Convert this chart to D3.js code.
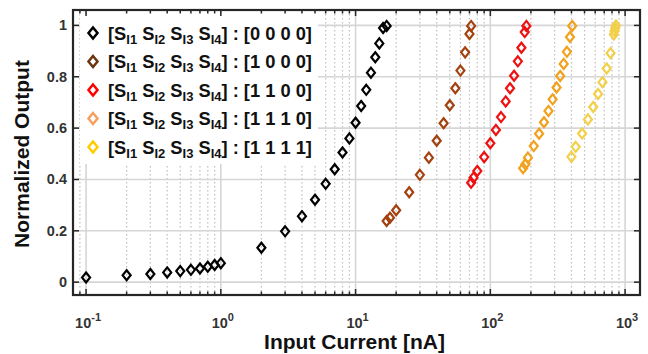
<!DOCTYPE html>
<html>
<head>
<meta charset="utf-8">
<script src="https://cdn.jsdelivr.net/npm/d3@7/dist/d3.min.js"></script>
<style>
  body { margin: 0; background: #fff; }
  svg { display: block; font-family: "Liberation Sans", Arial, sans-serif; }
</style>
</head>
<body>
<div id="chart"></div>
<script>
// data
var codes = ["0 0 0 0", "1 0 0 0", "1 1 0 0", "1 1 1 0", "1 1 1 1"];
var dotColors = ["#000000", "#a3420f", "#ee1111", "#f2a11c", "#f2d04a"];
var legendColors = ["#000000", "#6b3510", "#ff0000", "#f5a060", "#ffcc00"];

var x0000 = [0.1, 0.2, 0.3, 0.4, 0.5, 0.6, 0.7, 0.8, 0.9, 1, 2, 3, 4, 5, 6, 7, 8, 9, 10, 11, 12, 13, 14, 15, 16, 17];
var y0000 = [0.018, 0.027, 0.032, 0.038, 0.043, 0.048, 0.053, 0.060, 0.067, 0.074, 0.134, 0.198, 0.257, 0.321, 0.383, 0.44, 0.505, 0.56, 0.621, 0.686, 0.749, 0.816, 0.876, 0.93, 0.99, 0.998];
var x1000 = [17, 18, 20, 25, 30, 35, 40, 45, 50, 55, 60, 65, 70, 72];
var y1000 = [0.238, 0.251, 0.28, 0.35, 0.418, 0.485, 0.551, 0.619, 0.689, 0.755, 0.824, 0.895, 0.967, 0.998];
var x1100 = [72, 75, 80, 90, 100, 110, 120, 130, 140, 150, 160, 170, 180, 185];
var y1100 = [0.387, 0.407, 0.433, 0.487, 0.541, 0.593, 0.643, 0.704, 0.755, 0.804, 0.86, 0.913, 0.974, 0.998];
var x1110 = [175, 182, 190, 210, 230, 250, 270, 290, 310, 330, 350, 370, 390, 405];
var y1110 = [0.444, 0.459, 0.485, 0.530, 0.578, 0.623, 0.667, 0.712, 0.758, 0.803, 0.85, 0.897, 0.955, 0.998];
var x1111 = [400, 430, 480, 530, 580, 630, 680, 730, 780, 825, 835, 845, 855];
var y1111 = [0.488, 0.527, 0.579, 0.634, 0.682, 0.733, 0.779, 0.832, 0.892, 0.965, 0.978, 0.99, 1.0];

var xs = [x0000, x1000, x1100, x1110, x1111];
var ys = [y0000, y1000, y1100, y1110, y1111];

var xMajor = [0.1, 1, 10, 100, 1000];
var yTicks = [0, 0.2, 0.4, 0.6, 0.8, 1];
var yTickLabels = ["0", "0.2", "0.4", "0.6", "0.8", "1"];

function draw() {

// minor ticks 2..9 of each decade inside the axes
var xMinor = [];
[0.01, 0.1, 1, 10, 100, 1000].forEach(function(dec) {
  for (var k = 2; k <= 9; k++) {
    var v = dec * k;
    if (v > 0.081 && v < 1290) xMinor.push(v);
  }
});

var W = 648, H = 354;
var pLeft = 73, pRight = 640, pTop = 10, pBottom = 295;

var x = d3.scaleLog().domain([0.08, 1290]).range([pLeft, pRight]);
var y = d3.scaleLinear().domain([-0.05, 1.06]).range([pBottom, pTop]);

var svg = d3.select("#chart").append("svg")
  .attr("width", W)
  .attr("height", H);

// grid
var grid = svg.append("g");
grid.selectAll(".minor").data(xMinor).enter().append("line")
  .attr("x1", function(d) { return x(d); })
  .attr("x2", function(d) { return x(d); })
  .attr("y1", pTop).attr("y2", pBottom)
  .attr("stroke", "#bdbdbd")
  .attr("stroke-width", 1.2)
  .attr("stroke-dasharray", "1.5,2.5");
grid.selectAll(".vmaj").data(xMajor).enter().append("line")
  .attr("x1", function(d) { return x(d); })
  .attr("x2", function(d) { return x(d); })
  .attr("y1", pTop).attr("y2", pBottom)
  .attr("stroke", "#d6d6d6")
  .attr("stroke-width", 1.6);
grid.selectAll(".hmaj").data(yTicks).enter().append("line")
  .attr("x1", pLeft).attr("x2", pRight)
  .attr("y1", function(d) { return y(d); })
  .attr("y2", function(d) { return y(d); })
  .attr("stroke", "#d6d6d6")
  .attr("stroke-width", 1.6);

// markers
var diamond = "M0,-5L4,0L0,5L-4,0Z";
xs.forEach(function(xv, i) {
  svg.append("g").selectAll("path")
    .data(xv.map(function(d, j) { return [d, ys[i][j]]; }))
    .enter().append("path")
    .attr("d", diamond)
    .attr("transform", function(d) { return "translate(" + x(d[0]) + "," + y(d[1]) + ")"; })
    .attr("fill", "none")
    .attr("stroke", dotColors[i])
    .attr("stroke-width", 2.2);
});

// legend
var leg = svg.append("g");
leg.append("rect")
  .attr("x", 80).attr("y", 14)
  .attr("width", 238).attr("height", 150)
  .attr("fill", "#fff");
codes.forEach(function(c, i) {
  var ly = 33 + i * 28.5;
  leg.append("path")
    .attr("d", "M0,-5.5L4.5,0L0,5.5L-4.5,0Z")
    .attr("transform", "translate(93," + ly + ")")
    .attr("fill", "none")
    .attr("stroke", legendColors[i])
    .attr("stroke-width", 2.5);
  var t = leg.append("text")
    .attr("x", 108).attr("y", ly + 6.5)
    .attr("font-size", 18.3)
    .attr("font-weight", "bold")
    .attr("fill", "#111");
  t.append("tspan").text("[S");
  for (var k = 1; k <= 4; k++) {
    t.append("tspan").attr("dy", 4).attr("font-size", 13).text("I" + k);
    if (k < 4) t.append("tspan").attr("dy", -4).text(" S");
  }
  t.append("tspan").attr("dy", -4).text("] : [" + c + "]");
});

// axes frame and ticks (inward, all four sides)
var axes = svg.append("g").attr("stroke", "#262626");
function tickLines(vals, len, horiz) {
  vals.forEach(function(v) {
    if (horiz) {
      axes.append("line").attr("x1", x(v)).attr("x2", x(v)).attr("y1", pBottom).attr("y2", pBottom - len).attr("stroke-width", 1.5);
      axes.append("line").attr("x1", x(v)).attr("x2", x(v)).attr("y1", pTop).attr("y2", pTop + len).attr("stroke-width", 1.5);
    } else {
      axes.append("line").attr("y1", y(v)).attr("y2", y(v)).attr("x1", pLeft).attr("x2", pLeft + len).attr("stroke-width", 1.5);
      axes.append("line").attr("y1", y(v)).attr("y2", y(v)).attr("x1", pRight).attr("x2", pRight - len).attr("stroke-width", 1.5);
    }
  });
}
tickLines(xMajor, 6, true);
tickLines(xMinor, 3.5, true);
tickLines(yTicks, 6, false);
axes.append("rect")
  .attr("x", pLeft).attr("y", pTop)
  .attr("width", pRight - pLeft).attr("height", pBottom - pTop)
  .attr("fill", "none")
  .attr("stroke-width", 2.2);

// tick labels
svg.append("g").selectAll("text").data(yTicks).enter().append("text")
  .attr("x", pLeft - 6)
  .attr("y", function(d) { return y(d) + 5; })
  .attr("text-anchor", "end")
  .attr("font-size", 14.5)
  .attr("font-weight", "bold")
  .attr("fill", "#333")
  .text(function(d, i) { return yTickLabels[i]; });

var xl = svg.append("g").selectAll("text").data(xMajor).enter().append("text")
  .attr("x", function(d) { return x(d) + 2; })
  .attr("y", 328)
  .attr("text-anchor", "middle")
  .attr("font-size", 14.5)
  .attr("font-weight", "bold")
  .attr("fill", "#333");
xl.append("tspan").text("10");
xl.append("tspan").attr("dy", -7).attr("font-size", 11)
  .text(function(d) { return Math.round(Math.log10(d)); });

// axis titles
svg.append("text")
  .attr("x", (pLeft + pRight) / 2 - 2)
  .attr("y", 349)
  .attr("text-anchor", "middle")
  .attr("font-size", 21)
  .attr("font-weight", "bold")
  .attr("fill", "#111")
  .text("Input Current [nA]");
svg.append("text")
  .attr("transform", "translate(29," + 154 + ") rotate(-90)")
  .attr("text-anchor", "middle")
  .attr("font-size", 21)
  .attr("font-weight", "bold")
  .attr("fill", "#111")
  .text("Normalized Output");
}

draw();
</script>
</body>
</html>
